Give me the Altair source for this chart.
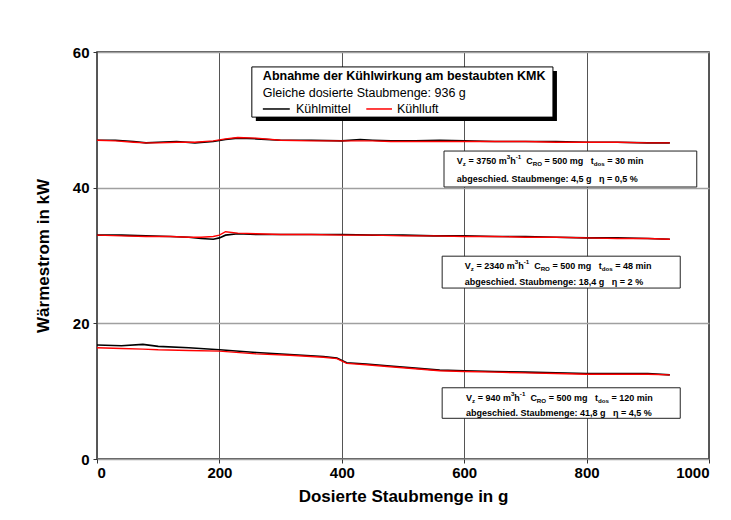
import re
import altair as alt
import pandas as pd

# ---------------- data ----------------
top_x = [0, 30, 60, 80, 100, 130, 160, 190, 210, 230, 260, 300, 350, 400, 430, 450,
         480, 520, 560, 600, 650, 700, 750, 800, 850, 900, 936]
top_mittel = [47.0, 47.0, 46.8, 46.6, 46.7, 46.8, 46.6, 46.8, 47.1, 47.3, 47.2, 47.0, 47.0,
              46.9, 47.1, 47.0, 46.9, 46.9, 47.0, 46.9, 46.8, 46.8, 46.8, 46.7, 46.7, 46.6, 46.6]
top_luft = [47.0, 46.9, 46.7, 46.6, 46.6, 46.7, 46.7, 46.9, 47.2, 47.4, 47.3, 47.0, 46.9,
            46.9, 46.9, 46.9, 46.8, 46.8, 46.8, 46.8, 46.8, 46.8, 46.7, 46.7, 46.7, 46.6, 46.6]

mid_x = [0, 40, 80, 120, 150, 170, 190, 200, 210, 230, 260, 300, 350, 400, 450, 500,
         550, 600, 650, 700, 750, 800, 850, 900, 936]
mid_mittel = [33.0, 33.0, 32.9, 32.8, 32.7, 32.5, 32.4, 32.6, 33.0, 33.2, 33.1, 33.1, 33.1,
              33.1, 33.0, 33.0, 32.9, 32.9, 32.8, 32.8, 32.7, 32.6, 32.6, 32.5, 32.4]
mid_luft = [33.0, 32.9, 32.8, 32.8, 32.7, 32.7, 32.8, 33.0, 33.5, 33.3, 33.2, 33.1, 33.1,
            33.0, 33.0, 32.9, 32.9, 32.8, 32.8, 32.7, 32.7, 32.6, 32.5, 32.5, 32.4]

low_x = [0, 40, 75, 100, 150, 200, 260, 315, 370, 392, 408, 440, 479, 520, 560, 600,
         650, 700, 750, 800, 850, 900, 936]
low_mittel = [16.8, 16.7, 16.9, 16.6, 16.4, 16.1, 15.7, 15.4, 15.1, 14.9, 14.2, 14.0, 13.7,
              13.4, 13.1, 13.0, 12.9, 12.8, 12.7, 12.6, 12.6, 12.6, 12.4]
low_luft = [16.4, 16.3, 16.2, 16.1, 16.0, 15.9, 15.5, 15.3, 15.0, 14.8, 14.1, 13.9, 13.6,
            13.3, 13.0, 12.9, 12.8, 12.7, 12.6, 12.5, 12.5, 12.5, 12.4]

series_names = ["Kühlmittel", "Kühlluft"]
series_colors = ["#000000", "#ff0000"]

legend_title = "Abnahme der Kühlwirkung am bestaubten KMK"
legend_sub = "Gleiche dosierte Staubmenge: 936 g"

ann_flow = ["3750", "2340", "940"]
ann_time = ["30", "48", "120"]
ann_mass = ["4,5", "18,4", "41,8"]
ann_eta = ["0,5", "2", "4,5"]

x_ticks = [0, 200, 400, 600, 800, 1000]
y_ticks = [0, 20, 40, 60]

# ---------------- geometry helpers ----------------
W_PX, H_PX = 612, 407
X_MAX, Y_MAX = 1000, 60
PXX = X_MAX / W_PX   # data units per px (x)
PXY = Y_MAX / H_PX   # data units per px (y)

rows = []
for grp, xv_list, a, b in [("top", top_x, top_mittel, top_luft),
                           ("mid", mid_x, mid_mittel, mid_luft),
                           ("low", low_x, low_mittel, low_luft)]:
    for xv, m, l in zip(xv_list, a, b):
        rows.append({"x": xv, "y": m, "series": series_names[0], "grp": grp})
        rows.append({"x": xv, "y": l, "series": series_names[1], "grp": grp})
df = pd.DataFrame(rows)

xs = alt.Scale(domain=[0, X_MAX], nice=False, zero=True)
ys = alt.Scale(domain=[0, Y_MAX], nice=False)
x_axis = alt.Axis(values=x_ticks, format="d", title="Dosierte Staubmenge in g", grid=True,
                  gridColor="#555555", gridWidth=1, tickSize=4, tickColor="#333",
                  labelPadding=2, titlePadding=8, domain=False,
                  labelFont="Liberation Sans", labelFontWeight="bold", labelFontSize=15,
                  labelColor="black", titleFont="Liberation Sans", titleFontWeight="bold",
                  titleFontSize=17, titleColor="black")
y_axis = alt.Axis(values=y_ticks, format="d", title="Wärmestrom in kW", grid=True,
                  gridColor="#a0a0a0", gridWidth=1.5, tickSize=4, tickColor="#333",
                  labelPadding=4, titlePadding=20, domain=False,
                  labelFont="Liberation Sans", labelFontWeight="bold", labelFontSize=15,
                  labelColor="black", titleFont="Liberation Sans", titleFontWeight="bold",
                  titleFontSize=17, titleColor="black")


def X(field="x:Q"):
    return alt.X(field, scale=xs, axis=x_axis)


def Y(field="y:Q"):
    return alt.Y(field, scale=ys, axis=y_axis)


base = alt.Chart(df)
line_mittel = base.transform_filter(alt.datum.series == series_names[0]).mark_line(
    color=series_colors[0], strokeWidth=1.6).encode(x=X(), y=Y(), detail="grp:N")
line_luft = base.transform_filter(alt.datum.series == series_names[1]).mark_line(
    color=series_colors[1], strokeWidth=1.4).encode(x=X(), y=Y(), detail="grp:N")

# boxes (data coordinates)
leg_box = dict(x=253, x2=745, y=57.8, y2=50.4)
ann_boxes = [dict(x=567, x2=980, y=45.4, y2=40.1),
             dict(x=564, x2=953, y=29.9, y2=25.2),
             dict(x=564, x2=953, y=10.5, y2=6.0)]
ann_line_y = [(43.9, 41.3), (28.45, 26.1), (9.0, 6.8)]
ann_text_x = [588, 601, 603]

shadow_df = pd.DataFrame([dict(x=leg_box["x"] + 4 * PXX, x2=leg_box["x2"] + 4 * PXX,
                               y=leg_box["y"] - 4 * PXY, y2=leg_box["y2"] - 4 * PXY)])
shadow = alt.Chart(shadow_df).mark_rect(fill="black").encode(
    x=X(), x2="x2:Q", y=Y(), y2="y2:Q")
legbox = alt.Chart(pd.DataFrame([leg_box])).mark_rect(
    fill="white", stroke="black", strokeWidth=1).encode(
    x=X(), x2="x2:Q", y=Y(), y2="y2:Q")
annbox = alt.Chart(pd.DataFrame(ann_boxes)).mark_rect(
    fill="white", stroke="#222", strokeWidth=1).encode(
    x=X(), x2="x2:Q", y=Y(), y2="y2:Q")

# legend content
leg_lines = pd.DataFrame([
    dict(x=271, x2=315, y=51.6, c=series_colors[0]),
    dict(x=440, x2=482, y=51.6, c=series_colors[1]),
])
leg_rules = alt.Chart(leg_lines).mark_rule(strokeWidth=1.5).encode(
    x=X(), x2="x2:Q", y=Y(), color=alt.Color("c:N", scale=None))
leg_texts = pd.DataFrame([
    dict(x=271, y=56.46, t=legend_title, w="bold"),
    dict(x=271, y=53.96, t=legend_sub, w="normal"),
    dict(x=325, y=51.6, t=series_names[0], w="normal"),
    dict(x=490, y=51.6, t=series_names[1], w="normal"),
])
leg_title_txt = alt.Chart(leg_texts[leg_texts.w == "bold"]).mark_text(
    align="left", baseline="middle", font="Liberation Sans", fontSize=12.5,
    fontWeight="bold", color="black").encode(x=X(), y=Y(), text="t:N")
leg_other_txt = alt.Chart(leg_texts[leg_texts.w == "normal"]).mark_text(
    align="left", baseline="middle", font="Liberation Sans", fontSize=12.5,
    color="black").encode(x=X(), y=Y(), text="t:N")

# annotation text with sub/superscripts
WID = {' ': .278, '=': .584, 'm': .889, 'h': .611, 'C': .722, 'V': .667, 't': .333,
       'i': .278, 'n': .611, 'g': .611, 'a': .556, 'b': .611, 'e': .556, 's': .556,
       'c': .556, 'd': .611, 'u': .611, 'S': .667, '.': .278, ',': .278, ':': .333,
       '%': .889, 'η': .611, 'R': .722, 'O': .778, 'o': .611, '-': .333, 'z': .5}
MAIN, SMALL = 9.0, 6.2


def tw(s, size):
    return sum(WID.get(ch, .556) for ch in s) * size


seg_rows = []
for i in range(3):
    x0 = ann_text_x[i]
    y1, y2 = ann_line_y[i]
    line1 = [("V", "n"), ("z", "sub"), (" = " + ann_flow[i] + " m", "n"), ("3", "sup"),
             ("h", "n"), ("-1", "sup"), ("  C", "n"), ("RO", "sub"),
             (" = 500 mg   t", "n"), ("dos", "sub"), (" = " + ann_time[i] + " min", "n")]
    line2 = [("abgeschied. Staubmenge: " + ann_mass[i] + " g", "n"),
             ("   η = " + ann_eta[i] + " %", "n")]
    for segs, yl in [(line1, y1), (line2, y2)]:
        off = 0.0
        for txt, kind in segs:
            size = MAIN if kind == "n" else SMALL
            dy = 0.0
            if kind == "sub":
                dy = -3 * PXY
            elif kind == "sup":
                dy = 4 * PXY
            # draw every word on its own so that runs of spaces keep their width
            for m in re.finditer(r"\S+", txt):
                start = off + tw(txt[:m.start()], size)
                seg_rows.append(dict(x=x0 + start * PXX, y=yl + dy, t=m.group(), s=size))
            off += tw(txt, size)
seg_df = pd.DataFrame(seg_rows)
ann_txt = alt.Chart(seg_df).mark_text(
    align="left", baseline="middle", font="Liberation Sans", fontWeight="bold",
    color="black").encode(x=X(), y=Y(), text="t:N", size=alt.Size("s:Q", scale=None))

chart = alt.layer(
    line_mittel, line_luft, shadow, legbox, leg_rules, leg_title_txt, leg_other_txt,
    annbox, ann_txt
).properties(
    width=W_PX, height=H_PX,
    background="white",
    autosize=alt.AutoSizeParams(type="none"),
    padding={"left": 89, "top": 44, "right": 14, "bottom": 53},
).configure_view(
    stroke="#222222", strokeWidth=1.5
)

chart.save("out.html", embed_options={"renderer": "svg", "actions": False})
